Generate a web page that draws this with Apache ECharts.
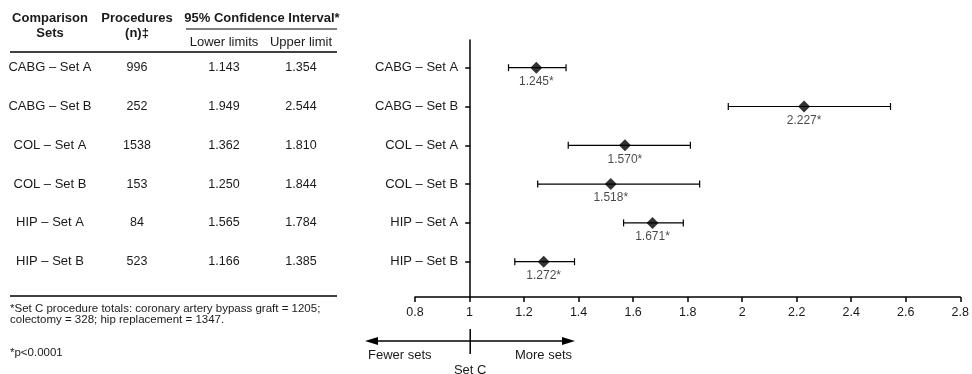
<!DOCTYPE html>
<html>
<head>
<meta charset="utf-8">
<script src="https://cdn.jsdelivr.net/npm/echarts@6/dist/echarts.min.js"></script>
<style>
  html, body { margin: 0; padding: 0; background: #fff; }
  #chart { width: 972px; height: 374px; }
</style>
</head>
<body>
<div id="chart"></div>
<script>
const categories = ['CABG – Set A', 'CABG – Set B', 'COL – Set A', 'COL – Set B', 'HIP – Set A', 'HIP – Set B']
const procedures = [996, 252, 1538, 153, 84, 523]
const lowerLimits = [1.143, 1.949, 1.362, 1.250, 1.565, 1.166]
const upperLimits = [1.354, 2.544, 1.810, 1.844, 1.784, 1.385]
const estimates = [1.245, 2.227, 1.570, 1.518, 1.671, 1.272]
const xTicks = { min: 0.8, max: 2.8, interval: 0.2 }

const FONT = 'Liberation Sans, Arial, sans-serif'
const TXT = '#1a1a1a'

const chart = echarts.init(document.getElementById('chart'))

// grid geometry
const gridLeft = 415, gridTop = 40, gridBottom = 77, gridRight = 5
const plotW = 972 - gridLeft - gridRight
const pxPerUnit = plotW / (xTicks.max - xTicks.min)
const rowStep = 38.8
const yMin = 1 - (67.7 - gridTop) / rowStep
const yMax = yMin + (374 - gridTop - gridBottom) / rowStep
const rowY = i => gridTop + (i + 1 - yMin) * rowStep

// table on the left (text only, rows line up with the chart rows)
const cols = [50, 137, 224, 301]
const table = []
const txt = (x, y, s, opt = {}) => table.push({
  type: 'text', x, y,
  style: Object.assign({ text: s, x: 0, y: 0, fill: TXT, font: '13px ' + FONT, align: 'center', verticalAlign: 'middle' }, opt)
})
const hline = (x1, x2, y, w) => table.push({
  type: 'line', shape: { x1, y1: y, x2, y2: y }, style: { stroke: '#000', lineWidth: w }
})
txt(cols[0], 18, 'Comparison', { font: 'bold 13px ' + FONT })
txt(cols[0], 33, 'Sets', { font: 'bold 13px ' + FONT })
txt(cols[1], 18, 'Procedures', { font: 'bold 13px ' + FONT })
txt(cols[1], 33, '(n)‡', { font: 'bold 13px ' + FONT })
txt(262, 18, '95% Confidence Interval*', { font: 'bold 13px ' + FONT })
hline(186, 337, 29, 1.2)
txt(cols[2], 42, 'Lower limits')
txt(cols[3], 42, 'Upper limit')
hline(10, 337, 52, 1.5)
categories.forEach((c, i) => {
  const y = rowY(i)
  txt(cols[0], y, c)
  txt(cols[1], y, String(procedures[i]), { font: '12.5px ' + FONT })
  txt(cols[2], y, lowerLimits[i].toFixed(3), { font: '12.5px ' + FONT })
  txt(cols[3], y, upperLimits[i].toFixed(3), { font: '12.5px ' + FONT })
})
hline(10, 337, 296, 1.5)
txt(10, 309, '*Set C procedure totals: coronary artery bypass graft = 1205;', { align: 'left', font: '11.5px ' + FONT })
txt(10, 320, 'colectomy = 328; hip replacement = 1347.', { align: 'left', font: '11.5px ' + FONT })
txt(10, 353, '*p<0.0001', { align: 'left', font: '11.5px ' + FONT })

// direction arrows under the axis
const x1 = gridLeft + (1 - xTicks.min) * pxPerUnit
const arrowY = 341
const arrows = [
  { type: 'line', shape: { x1: 372, y1: arrowY, x2: 568, y2: arrowY }, style: { stroke: '#000', lineWidth: 1.5 } },
  { type: 'polygon', shape: { points: [[365, arrowY], [378, arrowY - 4], [378, arrowY + 4]] }, style: { fill: '#000' } },
  { type: 'polygon', shape: { points: [[575, arrowY], [562, arrowY - 4], [562, arrowY + 4]] }, style: { fill: '#000' } },
  { type: 'line', shape: { x1: x1, y1: 329, x2: x1, y2: 354 }, style: { stroke: '#000', lineWidth: 1.5 } },
  { type: 'text', x: 368, y: 355, style: { text: 'Fewer sets', fill: TXT, font: '13px ' + FONT, align: 'left', verticalAlign: 'middle' } },
  { type: 'text', x: 572, y: 355, style: { text: 'More sets', fill: TXT, font: '13px ' + FONT, align: 'right', verticalAlign: 'middle' } },
  { type: 'text', x: x1, y: 370, style: { text: 'Set C', fill: TXT, font: '13px ' + FONT, align: 'center', verticalAlign: 'middle' } }
]

const rowIdx = categories.map((c, i) => i + 1)
const barData = categories.map((c, i) => [lowerLimits[i], upperLimits[i], i + 1])
const pointData = categories.map((c, i) => [estimates[i], i + 1])

chart.setOption({
  animation: false,
  backgroundColor: '#fff',
  textStyle: { fontFamily: FONT },
  grid: { left: gridLeft, right: gridRight, top: gridTop, bottom: gridBottom },
  xAxis: {
    type: 'value',
    min: xTicks.min,
    max: xTicks.max,
    interval: xTicks.interval,
    axisLine: { lineStyle: { color: '#000', width: 1.5 } },
    axisTick: { length: 5, lineStyle: { color: '#000', width: 1.5 } },
    axisLabel: { color: TXT, fontSize: 12.5, margin: 9, formatter: v => String(+v.toFixed(1)) },
    splitLine: { show: false }
  },
  yAxis: {
    type: 'value',
    inverse: true,
    min: yMin,
    max: yMax,
    offset: -(1 - xTicks.min) * pxPerUnit,
    axisLine: { show: true, lineStyle: { color: '#000', width: 1.5 } },
    axisTick: { show: true, length: 5, customValues: rowIdx, lineStyle: { color: '#000', width: 1.5 } },
    axisLabel: { color: TXT, fontSize: 13, margin: 12, customValues: rowIdx, formatter: v => categories[Math.round(v) - 1] || '' },
    splitLine: { show: false }
  },
  graphic: table.concat(arrows),
  series: [
    {
      type: 'custom',
      data: barData,
      encode: { x: [0, 1], y: 2 },
      renderItem: (params, api) => {
        const a = api.coord([api.value(0), api.value(2)])
        const b = api.coord([api.value(1), api.value(2)])
        const st = { stroke: '#000', lineWidth: 1.2 }
        return {
          type: 'group',
          children: [
            { type: 'line', shape: { x1: a[0], y1: a[1], x2: b[0], y2: b[1] }, style: st },
            { type: 'line', shape: { x1: a[0], y1: a[1] - 3.5, x2: a[0], y2: a[1] + 3.5 }, style: st },
            { type: 'line', shape: { x1: b[0], y1: b[1] - 3.5, x2: b[0], y2: b[1] + 3.5 }, style: st }
          ]
        }
      },
      z: 2
    },
    {
      type: 'scatter',
      data: pointData,
      symbol: 'diamond',
      symbolSize: 12,
      itemStyle: { color: '#000' },
      label: {
        show: true,
        position: 'bottom',
        distance: 2,
        color: TXT,
        fontSize: 12,
        formatter: p => p.value[0].toFixed(3) + '*'
      },
      z: 3
    }
  ]
})
</script>
</body>
</html>
